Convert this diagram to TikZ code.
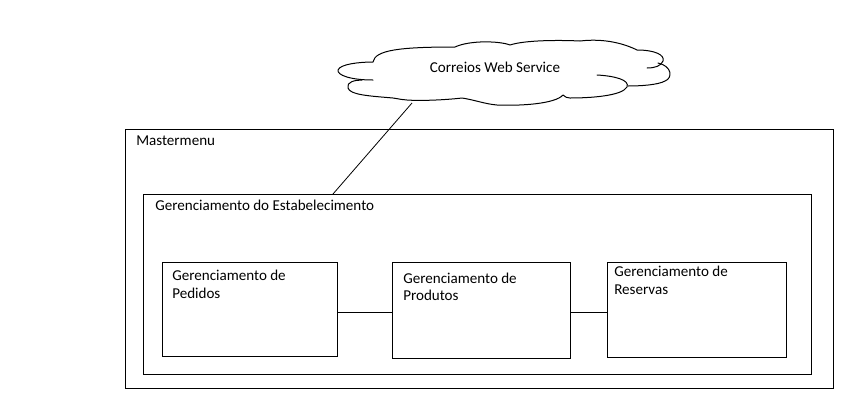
\documentclass[tikz,border=0pt]{standalone}
\usepackage{fontspec}
\setmainfont{Carlito}
\begin{document}
\begin{tikzpicture}[x=0.75pt,y=-0.75pt,
  box/.style={draw,line width=0.75pt,anchor=north west,inner sep=0pt},
  lbl/.style={anchor=base west,inner sep=0pt,align=left,font=\fontsize{11.3}{13}\selectfont},
  conn/.style={line width=0.75pt},
  cloudline/.style={line width=0.75pt,line cap=round,line join=round}]
\useasboundingbox (0,0) rectangle (850,415);
% cloud outline
\draw[cloudline] (647,68) .. controls (655,68) and (661,66) .. (663,61)
  .. controls (665,55) and (655,50) .. (637,50)
  .. controls (625,44) and (605,38) .. (580,41)
  .. controls (560,40) and (525,40) .. (510,45)
  .. controls (500,41) and (470,40) .. (455,47)
  .. controls (400,47) and (375,50) .. (373,62)
  .. controls (360,62) and (340,64) .. (338,70)
  .. controls (337,75) and (350,80) .. (373,80);
\draw[cloudline] (362,80) .. controls (355,80) and (346,82) .. (348,88)
  .. controls (350,95) and (370,96) .. (393,98)
  .. controls (400,99) and (403,100) .. (407,100)
  .. controls (420,101) and (445,100) .. (462,98)
  .. controls (475,100) and (485,104) .. (497,105)
  .. controls (520,106) and (555,104) .. (563,95)
  .. controls (565,97) and (567,98) .. (570,98)
  .. controls (590,98) and (622,96) .. (627,87)
  .. controls (630,80) and (615,76) .. (597,75);
\draw[cloudline] (628,86) .. controls (640,86) and (658,85) .. (665,81)
  .. controls (673,78) and (672,66) .. (658,63);
\node[inner sep=0pt,minimum width=250pt,minimum height=49pt] (cloud) at (503,73) {};
\node[anchor=base,inner sep=0pt,font=\fontsize{11.3}{13}\selectfont] (ctext) at (495,72) {Correios Web Service};
\node[box,minimum width=531pt,minimum height=194pt] (master) at (125,129) {};
\node[lbl] (mtext) at (136,145) {Mastermenu};
\node[box,minimum width=501pt,minimum height=135pt] (estab) at (143,194) {};
\node[lbl] (etext) at (155,210) {Gerenciamento do Estabelecimento};
\node[box,minimum width=131.25pt,minimum height=70.5pt] (ped) at (162,262) {};
\node[lbl] (ptext) at (172,298) {Gerenciamento de\\Pedidos};
\node[box,minimum width=133.5pt,minimum height=72pt] (prod) at (392,262) {};
\node[lbl] (prtext) at (403,300.5) {Gerenciamento de\\Produtos};
\node[box,minimum width=134.25pt,minimum height=71.25pt] (res) at (607,262) {};
\node[lbl] (rtext) at (614,294) {Gerenciamento de\\Reservas};
\coordinate (ly) at (0,312);
\coordinate (cb) at (412,103);
\coordinate (et) at (333,194);
\draw[conn] (ped.east |- ly) -- (prod.west |- ly);
\draw[conn] (prod.east |- ly) -- (res.west |- ly);
\draw[line width=0.6pt] (cb) -- (et);
\end{tikzpicture}
\end{document}
